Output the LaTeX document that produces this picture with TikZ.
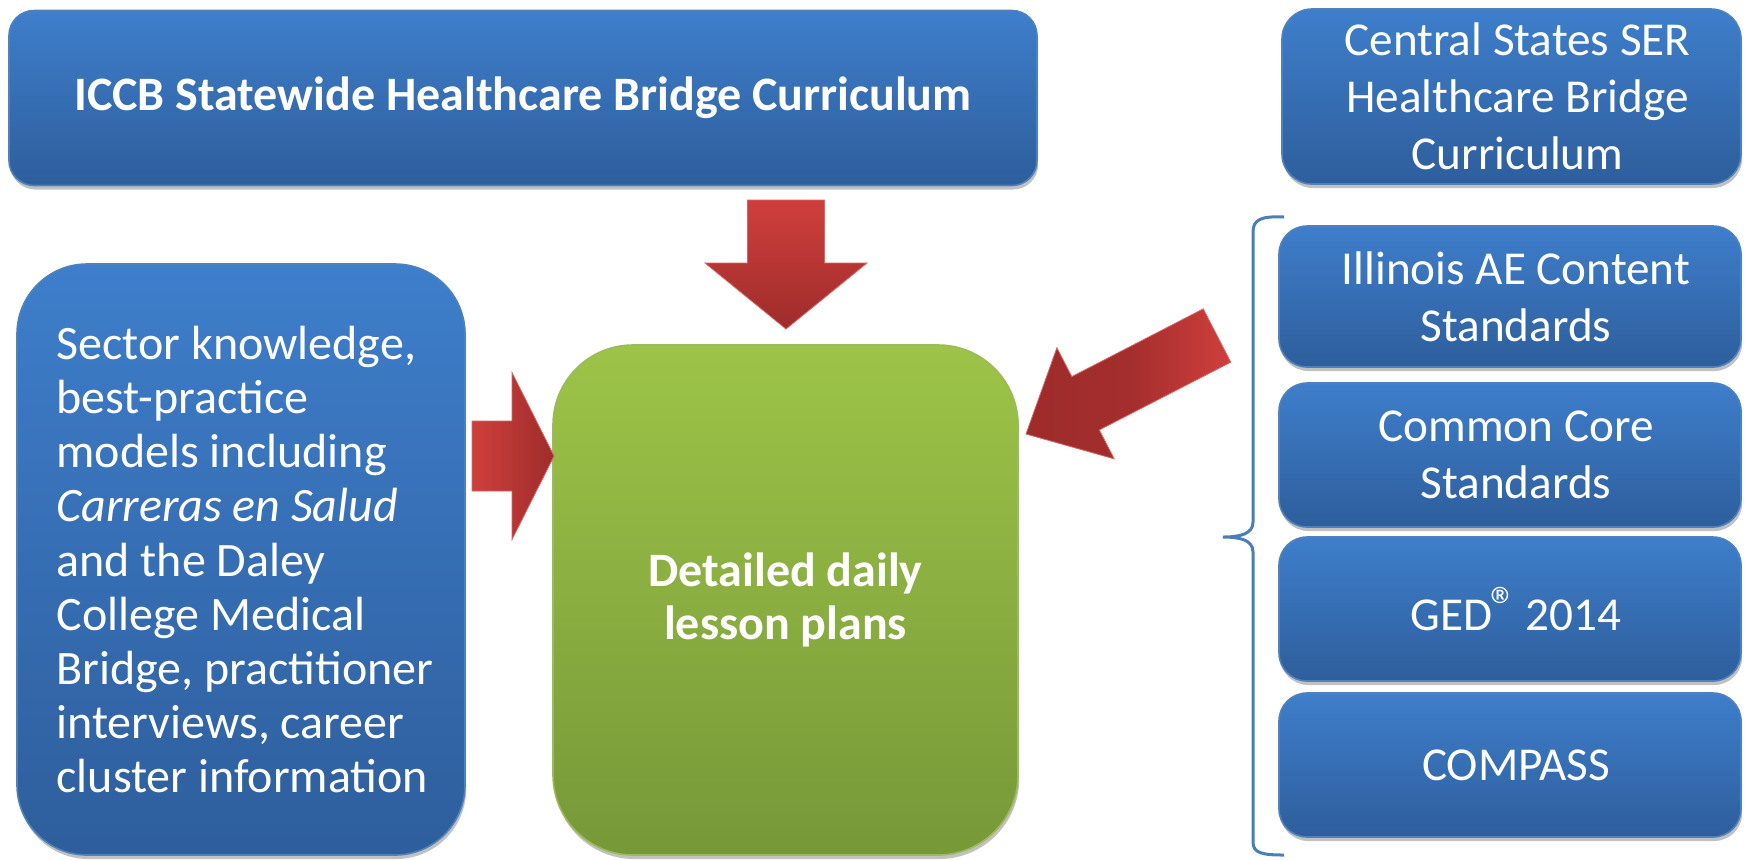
\documentclass[tikz,border=0pt]{standalone}
\usepackage{fontspec}
\setmainfont{Carlito}
\usetikzlibrary{calc,shadows}
\definecolor{bluetop}{RGB}{62,126,203}
\definecolor{bluebot}{RGB}{46,94,156}
\definecolor{blueedge}{RGB}{79,129,189}
\definecolor{greentop}{RGB}{157,196,72}
\definecolor{greenbot}{RGB}{119,152,56}
\definecolor{greenedge}{RGB}{155,187,89}
\definecolor{redlight}{RGB}{207,63,60}
\definecolor{reddark}{RGB}{158,44,43}
\definecolor{bracecol}{RGB}{74,126,187}
\tikzset{
  boxbase/.style={rectangle, inner sep=0pt, text=white, align=center,
    drop shadow={shadow xshift=0.6pt, shadow yshift=-2pt, opacity=0.35, fill=black!70}},
  bluebox/.style={boxbase, draw=blueedge, line width=0.8pt, top color=bluetop, bottom color=bluebot},
  greenbox/.style={boxbase, draw=greenedge, line width=0.8pt, top color=greentop, bottom color=greenbot},
  bigtext/.style={font=\fontsize{23.6}{28.5}\selectfont},
  lefttext/.style={font=\fontsize{24}{27.1}\selectfont},
  boldtext/.style={font=\bfseries\fontsize{24}{26.7}\selectfont},
  bracestyle/.style={draw=bracecol, line width=1.5pt},
}
% #1 tail, #2 tip, #3 half shaft, #4 half head, #5 head length, #6 shading options
\newcommand\blockarrow[6]{%
  \coordinate (hb) at ($(#2)!#5!(#1)$);
  \path[#6, draw=redlight!80!white, line width=0.4pt]
    ($(#1)!#3!90:(#2)$) -- ($(hb)!#3!-90:(#1)$) -- ($(hb)!#4!-90:(#1)$) -- (#2)
    -- ($(hb)!#4!90:(#1)$) -- ($(hb)!#3!90:(#1)$) -- ($(#1)!#3!-90:(#2)$) -- cycle;
}
\newcommand\regmark{\kern-0.8pt\raisebox{0.3ex}{\fontsize{27}{27}\selectfont ®}\kern-1.5pt}
\begin{document}
\begin{tikzpicture}[x=0.5pt,y=-0.5pt]
\useasboundingbox (0,0) rectangle (1745,859);
% boxes
\node[bluebox, rounded corners=12.5pt, minimum width=514pt, minimum height=87.5pt,
  font=\bfseries\fontsize{24}{28}\selectfont] (iccb) at (523,98)
  {ICCB Statewide Healthcare Bridge Curriculum};
\node[bluebox, bigtext, rounded corners=15pt, minimum width=229.5pt, minimum height=87.5pt] (ser) at (1511.5,96.5)
  {\hspace*{6pt}Central States SER\\\hspace*{6pt}Healthcare Bridge\\\hspace*{6pt}Curriculum};
\node[bluebox, lefttext, rounded corners=35pt, minimum width=224pt, minimum height=295.5pt, align=left] (sector) at (241,559.5)
  {\hspace*{4pt}Sector knowledge,\\\hspace*{4pt}best-practice\\\hspace*{4pt}models including\\\hspace*{4pt}\textit{Carreras en Salud}\\\hspace*{4pt}and the Daley\\\hspace*{4pt}College Medical\\\hspace*{4pt}Bridge, practitioner\\\hspace*{4pt}interviews, career\\\hspace*{4pt}cluster information};
\node[greenbox, boldtext, rounded corners=40pt, minimum width=232.5pt, minimum height=255pt] (plans) at (785.5,600)
  {Detailed daily\\lesson plans};
\node[bluebox, bigtext, rounded corners=14pt, minimum width=231pt, minimum height=70.5pt] (illinois) at (1510,296.5)
  {\hspace*{6pt}Illinois AE Content\\\hspace*{6pt}Standards};
\node[bluebox, bigtext, rounded corners=14pt, minimum width=231pt, minimum height=72pt] (core) at (1510,455)
  {\hspace*{6pt}Common Core\\\hspace*{6pt}Standards};
\node[bluebox, bigtext, rounded corners=14pt, minimum width=231pt, minimum height=72pt] (ged) at (1510,609)
  {\hspace*{6pt}GED\regmark\ 2014};
\node[bluebox, bigtext, rounded corners=14pt, minimum width=231pt, minimum height=72pt] (compass) at (1510,765)
  {\hspace*{6pt}COMPASS};
% arrows
\coordinate (downtail) at (786,200);
\coordinate (downtip) at (786,329);
\blockarrow{downtail}{downtip}{19.25pt}{40.5pt}{33pt}{top color=redlight, bottom color=reddark}
\coordinate (righttail) at (472,456);
\coordinate (righttip) at (554,456);
\blockarrow{righttail}{righttip}{17.5pt}{41.75pt}{21pt}{left color=redlight, right color=reddark}
\coordinate (diagtail) at (1217,335.5);
\coordinate (diagtip) at (1026,434);
\blockarrow{diagtail}{diagtip}{15pt}{31.25pt}{33.5pt}{left color=reddark, right color=redlight, middle color=reddark!90!redlight}
% bracket
\coordinate (bracetop) at (1284,217);
\coordinate (bracetip) at (1223,537);
\coordinate (bracebot) at (1284,855);
\draw[bracestyle] (bracetop) .. controls (1262,216) and (1253,219) .. (1253,232) -- (1253,522)
  .. controls (1253,534) and (1240,537) .. (bracetip)
  .. controls (1240,537) and (1253,540) .. (1253,552) -- (1253,842)
  .. controls (1253,853) and (1262,855) .. (bracebot);
\end{tikzpicture}
\end{document}
